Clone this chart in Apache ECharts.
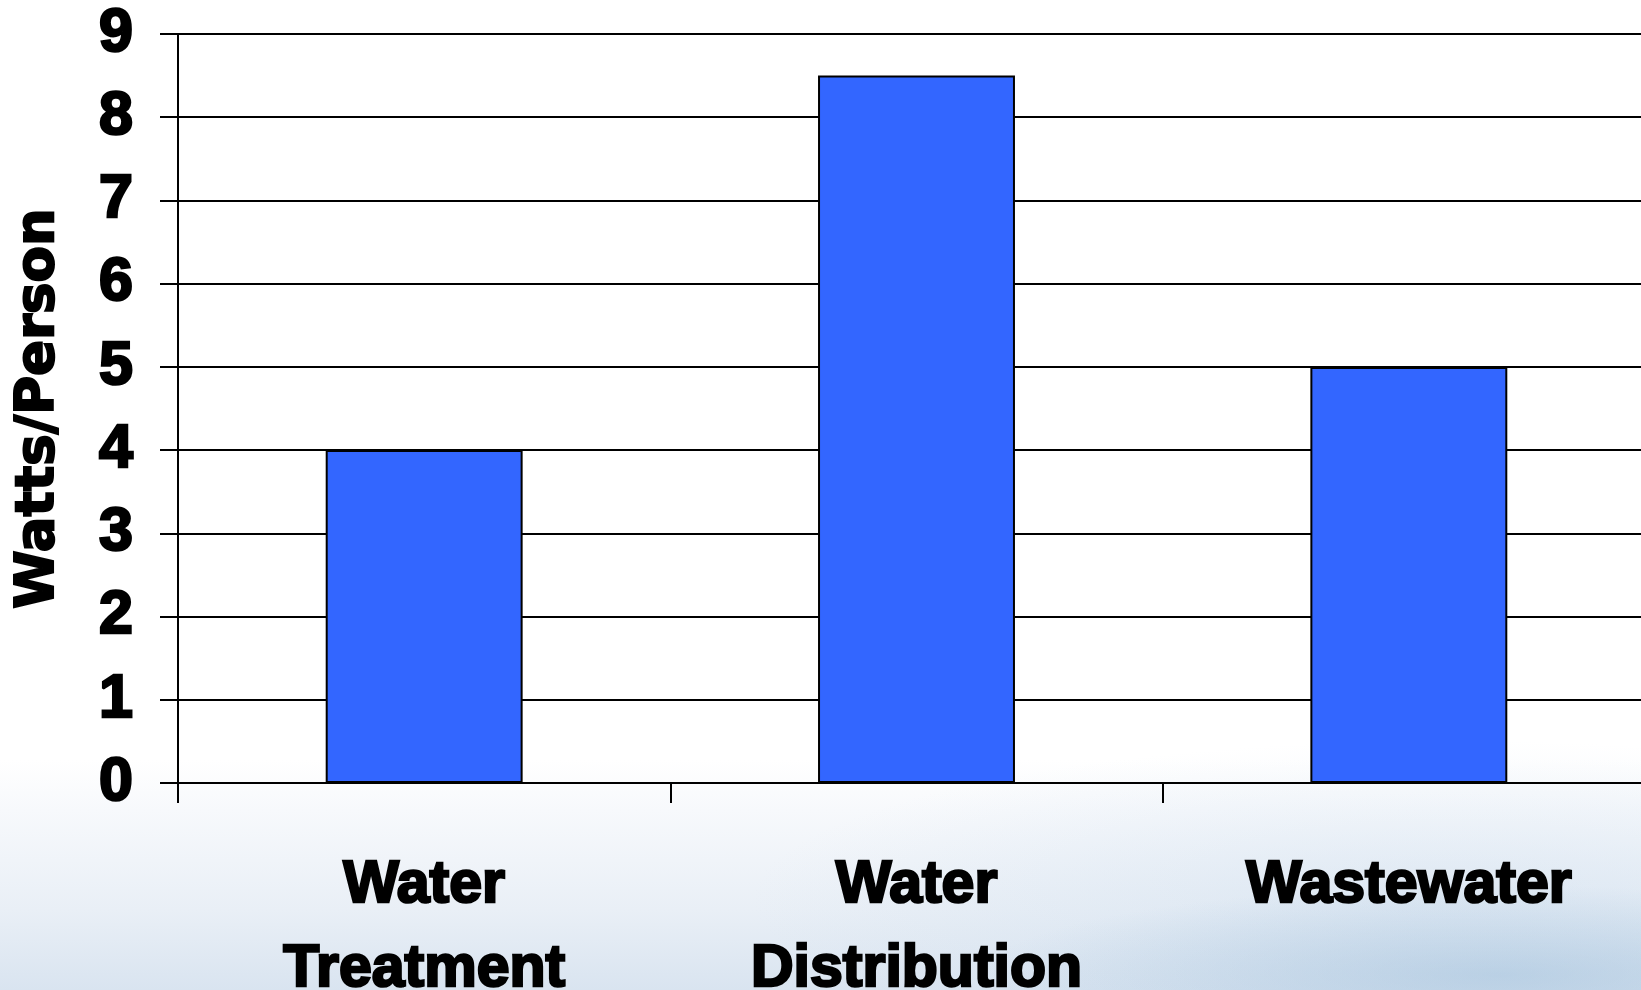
<!DOCTYPE html>
<html>
<head>
<meta charset="utf-8">
<title>Watts per Person</title>
<script src="https://cdn.jsdelivr.net/npm/echarts@6/dist/echarts.min.js"></script>
<style>
  html, body { margin: 0; padding: 0; }
  body { width: 1641px; height: 990px; overflow: hidden; }
  #chart {
    width: 1641px; height: 990px;
    background:
      radial-gradient(ellipse 520px 90px at 1500px 975px, rgba(150, 185, 215, 0.45), rgba(150, 185, 215, 0) 100%),
      radial-gradient(ellipse 700px 160px at 1450px 900px, rgba(195, 215, 235, 0.35), rgba(195, 215, 235, 0) 100%),
      linear-gradient(to bottom, #ffffff 0px, #ffffff 760px, #f7f9fc 810px, #e9eff6 910px, #d9e4f0 990px);
  }
</style>
</head>
<body>
<div id="chart"></div>
<script>
// Power used per person by each part of the water cycle
const categories = ['Water\nTreatment', 'Water\nDistribution', 'Wastewater'];
const wattsPerPerson = [4, 8.5, 5];
const yTicks = { min: 0, max: 9, interval: 1 };

const chart = echarts.init(document.getElementById('chart'), null, { renderer: 'canvas' });

const heavyText = {
  color: '#000',
  fontFamily: '"Liberation Sans", Arial, sans-serif',
  fontWeight: 'bold',
  textBorderColor: '#000',
  textBorderWidth: 2.5
};

chart.setOption({
  backgroundColor: 'transparent',
  animation: false,
  grid: {
    left: 178, top: 34, width: 1477, height: 749,
    containLabel: false,
    outerBoundsMode: 'none'
  },
  xAxis: {
    type: 'category',
    data: categories,
    boundaryGap: true,
    axisLine: { show: true, lineStyle: { color: '#000', width: 2 } },
    axisTick: { show: true, length: 20, inside: false, alignWithLabel: false, lineStyle: { color: '#000', width: 2 } },
    axisLabel: Object.assign({ fontSize: 59, lineHeight: 84, margin: 61, interval: 0, hideOverlap: false }, heavyText),
    splitLine: { show: false }
  },
  yAxis: {
    type: 'value',
    min: yTicks.min,
    max: yTicks.max,
    interval: yTicks.interval,
    name: 'Watts/Person',
    nameLocation: 'middle',
    nameGap: 112,
    nameRotate: 90,
    nameTextStyle: {
      fontSize: 53,
      fontFamily: '"DejaVu Sans", sans-serif',
      fontWeight: 'bold',
      color: '#000',
      textBorderColor: '#000',
      textBorderWidth: 2
    },
    axisLine: { show: true, lineStyle: { color: '#000', width: 2 } },
    axisTick: { show: true, length: 18, inside: false, lineStyle: { color: '#000', width: 2 } },
    axisLabel: Object.assign({ fontSize: 61, margin: 45 }, heavyText),
    splitLine: { show: true, lineStyle: { color: '#000', width: 2 } }
  },
  series: [{
    type: 'bar',
    data: wattsPerPerson,
    barWidth: '40%',
    itemStyle: { color: '#3366FF', borderColor: '#000', borderWidth: 2 },
    label: { show: false }
  }]
});
</script>
</body>
</html>
